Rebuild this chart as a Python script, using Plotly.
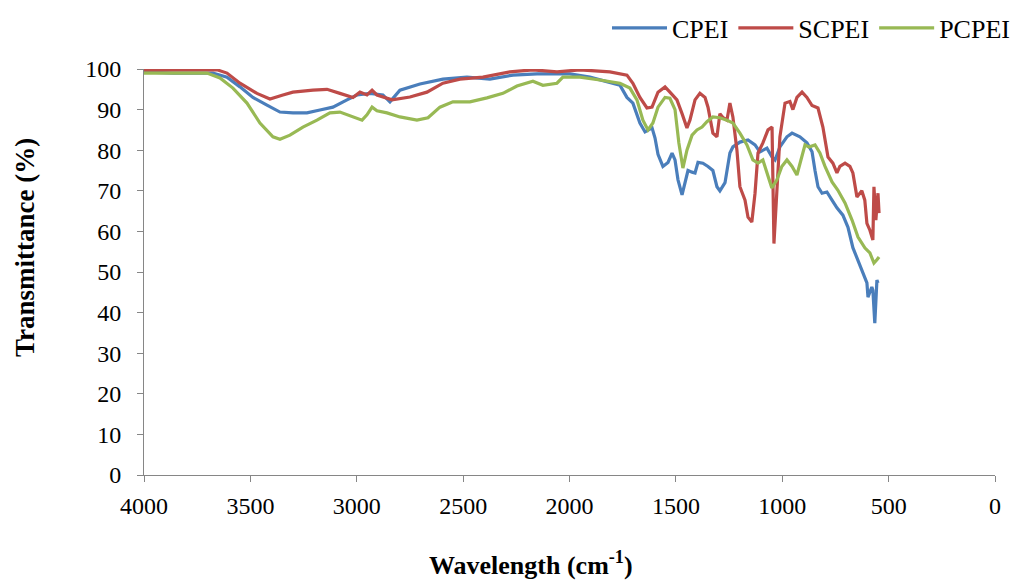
import plotly.graph_objects as go

# CPEI
cpei_x = [4000, 3864, 3676, 3610, 3549, 3488, 3422, 3361, 3300, 3234, 3173, 3112, 3046, 2999, 2938,
          2877, 2844, 2797, 2703, 2595, 2482, 2374, 2266, 2153, 2059, 1998, 1904, 1857, 1763, 1730,
          1702, 1669, 1645, 1612, 1598, 1584, 1561, 1537, 1518, 1504, 1490, 1471, 1457, 1443, 1424,
          1410, 1396, 1373, 1349, 1326, 1307, 1293, 1269, 1246, 1232, 1199, 1161, 1128, 1105, 1091,
          1072, 1048, 1034, 1011, 978, 954, 917, 884, 860, 846, 832, 813, 790, 766, 743, 715, 691,
          668, 644, 621, 602, 597, 579, 574, 565, 555, 550]
cpei_y = [99.3, 99.0, 99.0, 98.0, 95.6, 93.0, 91.1, 89.4, 89.2, 89.2, 89.9, 90.6, 92.4, 93.6, 94.0,
          93.6, 91.9, 94.8, 96.3, 97.5, 98.0, 97.5, 98.5, 98.8, 98.8, 98.8, 98.0, 97.3, 96.0, 93.0,
          91.6, 86.7, 84.5, 85.5, 83.0, 79.0, 76.0, 77.0, 79.3, 77.6, 72.7, 69.0, 72.0, 75.0, 74.6,
          74.4, 77.0, 76.8, 76.0, 75.0, 71.0, 70.0, 72.0, 79.3, 80.8, 82.0, 82.5, 81.3, 79.6, 80.0,
          80.5, 78.3, 77.6, 80.8, 83.3, 84.2, 83.3, 81.8, 79.6, 75.0, 71.0, 69.4, 69.7, 67.7, 65.8,
          64.0, 61.0, 56.0, 53.0, 49.7, 47.3, 43.8, 46.3, 45.5, 37.4, 48.0, 47.3]

# SCPEI
scpei_x = [4000, 3657, 3610, 3549, 3469, 3408, 3347, 3300, 3206, 3140, 3079, 3018, 2985, 2952, 2928,
           2905, 2834, 2750, 2670, 2595, 2515, 2407, 2280, 2172, 2059, 1951, 1810, 1730, 1702, 1669,
           1636, 1612, 1584, 1551, 1528, 1495, 1471, 1448, 1434, 1410, 1387, 1363, 1349, 1326, 1307,
           1293, 1278, 1260, 1246, 1232, 1213, 1199, 1175, 1161, 1143, 1128, 1114, 1091, 1067, 1048,
           1039, 1025, 1011, 987, 964, 950, 931, 907, 884, 860, 832, 809, 785, 762, 743, 729, 705,
           682, 668, 649, 626, 612, 602, 588, 574, 569, 560, 550, 545]
scpei_y = [99.7, 99.8, 99.0, 96.5, 94.0, 92.6, 93.6, 94.3, 94.8, 95.0, 94.0, 93.0, 94.3, 93.6, 94.8,
           93.6, 92.4, 93.1, 94.3, 96.5, 97.5, 98.0, 99.3, 99.8, 99.3, 99.8, 99.3, 98.5, 96.5, 93.0,
           90.4, 90.6, 94.3, 95.6, 94.3, 92.4, 89.0, 85.5, 87.4, 92.4, 94.0, 93.0, 90.6, 84.2, 83.3,
           89.0, 88.0, 87.4, 91.6, 88.2, 80.0, 71.0, 67.7, 63.5, 62.3, 69.4, 79.3, 81.8, 85.0, 85.7,
           57.0, 69.4, 83.3, 91.6, 92.0, 90.0, 93.0, 94.3, 93.0, 91.0, 90.4, 85.7, 78.3, 76.8, 74.4,
           76.0, 76.8, 76.0, 74.4, 68.5, 70.0, 67.7, 62.0, 60.3, 57.9, 71.0, 62.8, 69.4, 64.5]

# PCPEI
pcpei_x = [4000, 3704, 3643, 3582, 3516, 3455, 3394, 3361, 3314, 3253, 3187, 3126, 3079, 3018, 2975,
           2952, 2928, 2905, 2858, 2797, 2717, 2665, 2609, 2548, 2468, 2388, 2313, 2247, 2172, 2125,
           2059, 2031, 1951, 1857, 1763, 1716, 1683, 1655, 1631, 1608, 1584, 1551, 1528, 1504, 1486,
           1467, 1448, 1424, 1401, 1377, 1354, 1326, 1293, 1260, 1232, 1199, 1166, 1138, 1114, 1091,
           1067, 1049, 1025, 1002, 978, 954, 931, 917, 893, 875, 846, 823, 799, 766, 739, 705, 672,
           644, 611, 588, 569, 555, 545]
pcpei_y = [99.0, 99.0, 97.8, 95.3, 91.6, 86.7, 83.3, 82.7, 83.7, 85.7, 87.4, 89.2, 89.4, 88.2, 87.4,
           88.7, 90.6, 89.7, 89.2, 88.2, 87.4, 88.0, 90.6, 91.9, 91.9, 92.9, 94.0, 95.8, 97.0, 96.0,
           96.5, 98.0, 98.0, 97.3, 96.5, 95.3, 92.4, 87.4, 85.0, 86.7, 90.6, 93.0, 92.8, 90.0, 81.8,
           75.6, 80.0, 83.7, 85.0, 85.7, 87.0, 88.2, 88.0, 87.4, 86.7, 84.2, 81.3, 77.6, 76.8, 77.6,
           73.4, 70.7, 72.7, 76.0, 77.6, 76.0, 73.9, 76.8, 81.3, 80.8, 81.3, 79.3, 76.0, 72.2, 70.2,
           67.0, 62.8, 58.6, 55.9, 54.7, 52.2, 53.0, 53.7]

x_ticks = [4000, 3500, 3000, 2500, 2000, 1500, 1000, 500, 0]
y_ticks = [0, 10, 20, 30, 40, 50, 60, 70, 80, 90, 100]

series = [
    ("CPEI", cpei_x, cpei_y, "#4A7EBB"),
    ("SCPEI", scpei_x, scpei_y, "#BE4B48"),
    ("PCPEI", pcpei_x, pcpei_y, "#98B954"),
]

fig = go.Figure()
for name, xs, ys, col in series:
    fig.add_trace(go.Scatter(x=xs, y=ys, mode="lines", name=name,
                             line=dict(color=col, width=3.2)))

font_family = "Liberation Serif, Times New Roman, serif"
W, H = 1017, 583
ml, mr, mt, mb = 10, 2, 5, 5
pw, ph = W - ml - mr, H - mt - mb


def px_x(p):
    return (p - ml) / pw


def px_y(p):
    return (H - mb - p) / ph


fig.update_layout(
    width=W, height=H,
    margin=dict(l=ml, r=mr, t=mt, b=mb, autoexpand=False),
    paper_bgcolor="white", plot_bgcolor="white",
    font=dict(family=font_family, size=24, color="black"),
    showlegend=True,
    legend=dict(orientation="h", x=1.0, xanchor="right", y=px_y(28), yanchor="middle",
                font=dict(family=font_family, size=26, color="black"),
                bgcolor="rgba(0,0,0,0)", itemwidth=55, tracegroupgap=0),
    xaxis=dict(domain=[px_x(144), px_x(995)], range=[4000, 0], tickvals=x_ticks,
               ticktext=[str(v) for v in x_ticks], automargin=False,
               showgrid=False, zeroline=False, showline=True, linecolor="#868686", linewidth=1,
               ticks="outside", ticklen=6, tickcolor="#868686", ticklabelstandoff=3,
               tickfont=dict(family=font_family, size=24, color="black")),
    yaxis=dict(domain=[px_y(475), px_y(69)], range=[0, 100], tickvals=y_ticks,
               ticktext=[str(v) for v in y_ticks], automargin=False,
               showgrid=False, zeroline=False, showline=True, linecolor="#868686", linewidth=1,
               ticks="outside", ticklen=6, tickcolor="#868686", ticklabelstandoff=11,
               tickfont=dict(family=font_family, size=24, color="black")),
    annotations=[
        dict(text="<b>Wavelength (cm<sup>-1</sup>)</b>", xref="paper", yref="paper",
             x=px_x(531), y=px_y(563), xanchor="center", yanchor="middle", showarrow=False,
             font=dict(family=font_family, size=26, color="black")),
        dict(text="<b>Transmittance (%)</b>", xref="paper", yref="paper",
             x=px_x(25), y=px_y(248), xanchor="center", yanchor="middle", showarrow=False,
             textangle=-90, font=dict(family=font_family, size=27, color="black")),
    ],
)

fig.write_html("out.html")
